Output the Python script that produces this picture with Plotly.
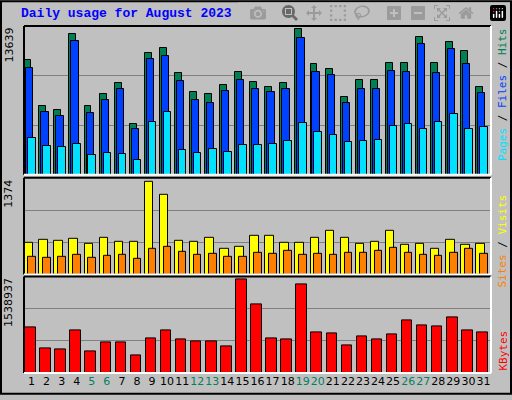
import plotly.graph_objects as go

days = list(range(1, 32))
weekend = [5, 6, 12, 13, 19, 20, 26, 27]
hits = [10765,6403,6032,13178,6403,7517,8630,4733,11414,11878,9558,7702,7517,8445,9651,8723,8259,8630,13639,10394,9930,7238,8909,8909,10486,10486,12899,10486,12435,11600,8259]
files = [10022,5846,5475,12528,5754,6960,7981,4269,10858,11136,8816,6960,6682,7795,8909,8074,7702,7981,12806,9651,9373,6682,8074,8074,9744,9651,12250,9558,11786,10394,7610]
pages = [3434,2691,2598,2877,1856,2042,1949,1392,4918,5846,2320,2042,2413,2134,2784,2784,2877,3155,4826,3990,3712,3062,3155,3248,4547,4733,4269,4918,5661,4269,4454]
visits = [466,511,496,526,451,541,481,481,1374,1181,496,481,541,377,407,570,570,466,466,541,645,541,451,481,645,437,451,377,511,437,451]
sites = [258,243,258,288,243,273,288,228,377,407,332,288,303,258,258,317,303,347,288,303,288,317,317,347,392,317,288,273,317,377,303]
kbytes = [746928,409968,393120,696384,359424,494208,494208,292032,561600,696384,544752,511056,511056,443664,1538937,1117584,561600,544752,1454544,662688,645840,460512,595296,544752,628992,864864,780624,763776,915408,696384,662688]

H, L, T, B = 352, 24, 26, 22
W = 512 - L - 21
def dom(top, bot):
    return [(400 - B - bot) / H, (400 - B - top) / H]

fig = go.Figure()
def bar(y, ya, color, off, w):
    fig.add_trace(go.Bar(x=days, y=y, xaxis="x", yaxis=ya, marker=dict(color=color, line=dict(color="black", width=1)),
                         offset=off - 0.5, width=w, showlegend=False, hoverinfo="skip"))
bar(hits, "y", "#008050", 0.02, 0.46)
bar(files, "y", "#0040FF", 0.15, 0.48)
bar(pages, "y", "#00E0FF", 0.28, 0.50)
bar(visits, "y2", "#FFFF00", 0.02, 0.56)
bar(sites, "y2", "#FF8000", 0.28, 0.50)
bar(kbytes, "y3", "#FF0000", 0.08, 0.70)

r1 = 13639 * 150 / 147
r2 = 1374 * 97 / 93
r3 = 1538937 * 94 / 91.4
ax = dict(showline=False, zeroline=False, gridcolor="#808080", gridwidth=1, showticklabels=False, ticks="")
ticktext = [f'<span style="color:#008060">{d}</span>' if d in weekend else str(d) for d in days]
fig.update_layout(
    width=512, height=400, margin=dict(l=L, r=21, t=T, b=B),
    paper_bgcolor="#C0C0C0", plot_bgcolor="#C0C0C0", barmode="overlay", bargap=0,
    font=dict(family="DejaVu Sans", size=11, color="black"),
    xaxis=dict(range=[0.5, 31.5], tickvals=days, ticktext=ticktext, showgrid=False, zeroline=False,
               ticks="", anchor="y3", tickangle=0, tickfont=dict(size=11)),
    yaxis=dict(domain=dom(26, 177), range=[0, r1], tickvals=[r1 / 3, 2 * r1 / 3], **ax),
    yaxis2=dict(domain=dom(180, 278), range=[0, r2], tickvals=[r2 / 3, 2 * r2 / 3], **ax),
    yaxis3=dict(domain=dom(280, 378), range=[0, r3], tickvals=[r3 / 3, 2 * r3 / 3], **ax),
)
shapes = []
shapes.append(dict(type="rect", xref="paper", yref="paper", x0=-(L-1)/W, x1=1+20/W, y0=-(B-1)/H, y1=1+(T-1)/H, line=dict(color="black", width=2)))
for (t, b) in [(26, 177), (180, 278), (280, 378)]:
    d = dom(t, b)
    shapes.append(dict(type="line", xref="paper", yref="paper", x0=0, x1=1, y0=d[1], y1=d[1], line=dict(color="black", width=2)))
    shapes.append(dict(type="line", xref="paper", yref="paper", x0=0, x1=0, y0=d[0], y1=d[1], line=dict(color="black", width=2)))
    shapes.append(dict(type="line", xref="paper", yref="paper", x0=0, x1=1, y0=d[0], y1=d[0], line=dict(color="white", width=2)))
    shapes.append(dict(type="line", xref="paper", yref="paper", x0=1, x1=1, y0=d[0], y1=d[1], line=dict(color="white", width=2)))
fig.update_layout(shapes=shapes)

mono = dict(family="DejaVu Sans Mono", size=11)
ann = [
    dict(text="<b>Daily usage for August 2023</b>", x=-5/W, y=1+13/H, xanchor="left", yanchor="middle",
         font=dict(family="Liberation Mono", size=13, color="#0000FF")),
    dict(text="13639", x=-15/W, y=dom(26, 177)[1], yanchor="top", textangle=-90),
    dict(text="1374", x=-15/W, y=dom(180, 278)[1], yanchor="top", textangle=-90),
    dict(text="1538937", x=-15/W, y=dom(280, 378)[1], yanchor="top", textangle=-90),
    dict(text='<span style="color:#00E0FF">Pages</span> / <span style="color:#0040FF">Files</span> / <span style="color:#008050">Hits</span>',
         x=1+3/W, y=dom(26, 177)[1], yanchor="top", textangle=-90, font=mono),
    dict(text='<span style="color:#FF8000">Sites</span> / <span style="color:#FFFF00">Visits</span>',
         x=1+3/W, y=dom(180, 278)[1] - 15/H, yanchor="top", textangle=-90, font=mono),
    dict(text='<span style="color:#FF0000">KBytes</span>',
         x=1+3/W, y=dom(280, 378)[0], yanchor="bottom", textangle=-90, font=mono),
]
for a in ann:
    a.setdefault("xref", "paper"); a.setdefault("yref", "paper"); a.setdefault("showarrow", False)
    a.setdefault("xanchor", "left" if a["x"] > 1 else "center")
fig.update_layout(annotations=ann)
fig.write_html("out.html")
with open("out.html") as f:
    html = f.read()
html = html.replace("<head>", "<head><style>body{margin:0;padding:0}</style>", 1)
with open("out.html", "w") as f:
    f.write(html)
